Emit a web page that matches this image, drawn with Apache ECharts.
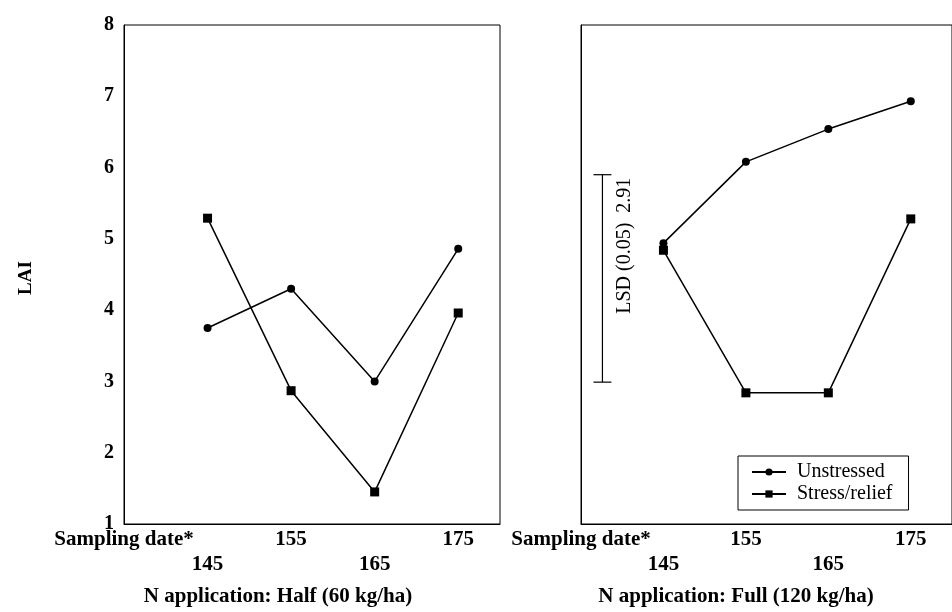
<!DOCTYPE html>
<html>
<head>
<meta charset="utf-8">
<script src="https://cdn.jsdelivr.net/npm/echarts@6/dist/echarts.min.js"></script>
<style>
html, body { margin: 0; padding: 0; background: #fff; }
#chart { width: 952px; height: 612px; }
</style>
</head>
<body>
<div id="chart"></div>
<script>
// sampling dates (day of year)
var dates = [145, 155, 165, 175];
var yTicks = [1, 2, 3, 4, 5, 6, 7, 8];

// LAI, N application half (60 kg/ha)
var halfUnstressed = [3.75, 4.3, 3.0, 4.86];
var halfStress = [5.29, 2.87, 1.45, 3.96];

// LAI, N application full (120 kg/ha)
var fullUnstressed = [4.94, 6.08, 6.54, 6.93];
var fullStress = [4.84, 2.84, 2.84, 5.28];

// LSD bar
var lsdDate = 137.6;
var lsdLow = 2.99;
var lsdValue = 2.91;

var serif = '"Liberation Serif", "DejaVu Serif", serif';

function pairs(vals) {
	return dates.map(function(d, i) {
		return [ d, vals[i] ];
	});
}

// staggered labels: 145 and 165 on the lower row
function xLabel(v) {
	if (v === 145 || v === 165) return '\n' + v;
	if (dates.indexOf(v) >= 0) return String(v);
	return '';
}

var xAxisBase = {
	type : 'value',
	min : 135,
	max : 180,
	interval : 10,
	axisLine : { show : true, lineStyle : { color : '#000', width : 1 } },
	axisTick : { show : false },
	splitLine : { show : false },
	axisLabel : {
		formatter : xLabel,
		color : '#000',
		fontFamily : serif,
		fontWeight : 'bold',
		fontSize : 21,
		lineHeight : 25,
		margin : 3,
		showMinLabel : false,
		showMaxLabel : false
	}
};

var lineStyle = { color : '#000', width : 1.5 };

function series(name, vals, symbol, idx) {
	return {
		name : name,
		type : 'line',
		xAxisIndex : idx,
		yAxisIndex : idx,
		data : pairs(vals),
		symbol : symbol,
		symbolSize : symbol === 'circle' ? 8 : 9,
		showAllSymbol : true,
		itemStyle : { color : '#000' },
		lineStyle : lineStyle,
		z : 3
	};
}

function label(text, x, y, size, rot) {
	return {
		type : 'text',
		x : x,
		y : y,
		rotation : rot || 0,
		style : {
			text : text,
			font : 'bold ' + size + 'px ' + serif,
			fill : '#000',
			align : 'center',
			verticalAlign : 'middle'
		}
	};
}

var chart = echarts.init(document.getElementById('chart'));
chart.setOption({
	backgroundColor : '#fff',
	animation : false,
	grid : [ {
		left : 124, top : 25, width : 376, height : 499,
		show : true, borderColor : '#000', borderWidth : 1
	}, {
		left : 581, top : 25, width : 380, height : 499,
		show : true, borderColor : '#000', borderWidth : 1
	} ],
	xAxis : [
		Object.assign({ gridIndex : 0 }, xAxisBase),
		Object.assign({ gridIndex : 1 }, xAxisBase)
	],
	yAxis : [ {
		gridIndex : 0,
		type : 'value',
		min : yTicks[0],
		max : yTicks[yTicks.length - 1],
		interval : 1,
		axisLine : { show : true, lineStyle : { color : '#000' } },
		axisTick : { show : false },
		splitLine : { show : false },
		axisLabel : {
			color : '#000',
			fontFamily : serif,
			fontWeight : 'bold',
			fontSize : 20,
			margin : 10
		}
	}, {
		gridIndex : 1,
		type : 'value',
		min : yTicks[0],
		max : yTicks[yTicks.length - 1],
		interval : 1,
		axisLine : { show : true, lineStyle : { color : '#000' } },
		axisTick : { show : false },
		splitLine : { show : false },
		axisLabel : { show : false }
	} ],
	legend : {
		data : [ 'Unstressed', 'Stress/relief' ],
		orient : 'vertical',
		left : 738,
		top : 456,
		padding : [ 6, 16, 6, 13 ],
		itemGap : 2,
		itemWidth : 34,
		itemHeight : 9,
		borderColor : '#000',
		borderWidth : 1,
		textStyle : {
			color : '#000',
			fontFamily : serif,
			fontSize : 20,
			padding : [ 0, 0, 0, 6 ]
		}
	},
	graphic : [
		label('Sampling date*', 124, 540, 21),
		label('Sampling date*', 581, 540, 21),
		label('N application: Half (60 kg/ha)', 278, 597, 21),
		label('N application: Full (120 kg/ha)', 736, 597, 21),
		label('LAI', 26, 278, 19, Math.PI / 2)
	],
	series : [
		series('Unstressed', halfUnstressed, 'circle', 0),
		series('Stress/relief', halfStress, 'rect', 0),
		series('Unstressed', fullUnstressed, 'circle', 1),
		series('Stress/relief', fullStress, 'rect', 1),
		{
			type : 'custom',
			xAxisIndex : 1,
			yAxisIndex : 1,
			data : [ [ lsdDate, lsdLow, lsdLow + lsdValue ] ],
			renderItem : function(params, api) {
				var lo = api.coord([ api.value(0), api.value(1) ]);
				var hi = api.coord([ api.value(0), api.value(2) ]);
				var w = 9;
				var st = { stroke : '#000', lineWidth : 1.2 };
				return {
					type : 'group',
					children : [ {
						type : 'line',
						shape : { x1 : lo[0], y1 : lo[1], x2 : hi[0], y2 : hi[1] },
						style : st
					}, {
						type : 'line',
						shape : { x1 : lo[0] - w, y1 : lo[1], x2 : lo[0] + w, y2 : lo[1] },
						style : st
					}, {
						type : 'line',
						shape : { x1 : hi[0] - w, y1 : hi[1], x2 : hi[0] + w, y2 : hi[1] },
						style : st
					}, {
						type : 'text',
						x : hi[0] + 22,
						y : hi[1] + 3,
						rotation : Math.PI / 2,
						style : {
							text : 'LSD (0.05)  ' + lsdValue.toFixed(2),
							font : '20px ' + serif,
							fill : '#000',
							align : 'right',
							verticalAlign : 'middle'
						}
					} ]
				};
			}
		}
	]
});
</script>
</body>
</html>
